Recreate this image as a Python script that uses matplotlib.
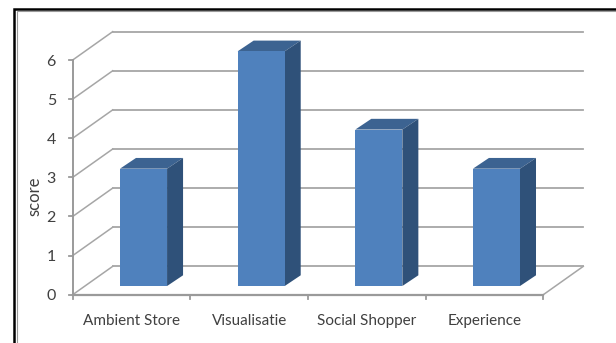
import matplotlib
matplotlib.use('Agg')
import matplotlib.pyplot as plt
from matplotlib.patches import Polygon

categories = ['Ambient Store', 'Visualisatie', 'Social Shopper', 'Experience']
scores = [3, 6, 4, 3]
y_ticks = [0, 1, 2, 3, 4, 5, 6]

W, H = 616, 343
plt.rcParams['font.family'] = ['Lato', 'DejaVu Sans']

fig = plt.figure(figsize=(W / 100, H / 100), dpi=100)
fig.patch.set_facecolor('white')

# axes box runs along the front edge of the 3D floor and the left wall
x0, x1 = 72.7, 543.3
y_bottom, y_top = 294.7, 60
ax = fig.add_axes([x0 / W, 1 - y_bottom / H, (x1 - x0) / W, (y_bottom - y_top) / H])
ax.set_xlim(0, len(categories))
ax.set_ylim(0, 6)
ax.axis('off')

# oblique depth of the chart box, in data units
depth_x = 0.34
depth_y = 0.725

grid = '#a6a6a6'
axis_c = '#9a9a9a'
text_c = '#404040'

# back wall gridlines and their slanted parts on the side wall
for v in y_ticks:
    ax.plot([depth_x, len(categories) + depth_x], [v + depth_y, v + depth_y], color=grid, lw=1.3, clip_on=False, zorder=1)
    ax.plot([0, depth_x], [v, v + depth_y], color=grid, lw=1.1, clip_on=False, zorder=1)
    ax.plot([-0.035, 0], [v, v], color=axis_c, lw=1.3, clip_on=False, zorder=2)
    ax.text(-0.142, v - 0.04, str(v), ha='right', va='center', fontsize=11.5, color=text_c, clip_on=False)

# floor edge on the right
ax.plot([len(categories), len(categories) + depth_x], [0, depth_y], color=grid, lw=1.1, clip_on=False, zorder=1)

# axis lines and category ticks
ax.plot([0, 0], [0, 6], color=axis_c, lw=1.4, clip_on=False, zorder=2)
ax.plot([0, len(categories)], [0, 0], color=axis_c, lw=1.6, clip_on=False, zorder=2)
for i in range(len(categories) + 1):
    ax.plot([i, i], [0, -0.1], color=axis_c, lw=1.3, clip_on=False, zorder=2)

# 3D columns
bar_left = 0.402
bar_w = 0.4
bar_base = 0.222
bar_dx = 0.136
bar_dy = 0.274

for i, (name, s) in enumerate(zip(categories, scores)):
    l = i + bar_left
    r = l + bar_w
    b = bar_base
    t = bar_base + s
    ax.add_patch(Polygon([(l, t), (r, t), (r + bar_dx, t + bar_dy), (l + bar_dx, t + bar_dy)],
                         facecolor='#3c6391', edgecolor='none', clip_on=False, zorder=3))
    ax.add_patch(Polygon([(r, b), (r + bar_dx, b + bar_dy), (r + bar_dx, t + bar_dy), (r, t)],
                         facecolor='#2f5179', edgecolor='none', clip_on=False, zorder=3))
    ax.add_patch(Polygon([(l, b), (r, b), (r, t), (l, t)],
                         facecolor='#4f81bd', edgecolor='none', clip_on=False, zorder=4))
    ax.text(i + 0.5, -0.67, name, ha='center', va='center', fontsize=11, color=text_c, clip_on=False)

fig.text(34.5 / W, 1 - 196 / H, 'score', rotation=90, ha='center', va='center', fontsize=12, color=text_c)

# black double frame that runs off the right and bottom edges
frame = plt.Line2D([14 / W, 14 / W, 1], [0, 1 - 9 / H, 1 - 9 / H], transform=fig.transFigure,
                   color='black', lw=1.8, solid_joinstyle='miter')
fig.add_artist(frame)
frame2 = plt.Line2D([16.5 / W, 16.5 / W, 1], [0, 1 - 11 / H, 1 - 11 / H], transform=fig.transFigure,
                    color='#9a9a9a', lw=0.8, solid_joinstyle='miter')
fig.add_artist(frame2)

fig.savefig('out.png', dpi=100)
